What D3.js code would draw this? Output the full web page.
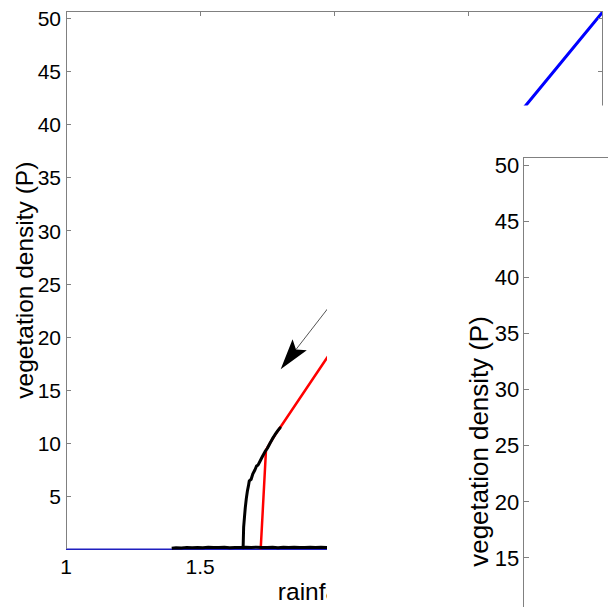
<!DOCTYPE html>
<html>
<head>
<meta charset="utf-8">
<script src="https://cdn.jsdelivr.net/npm/d3@7"></script>
<style>
  html, body { margin: 0; padding: 0; background: #fff; }
  svg { display: block; }
  text { font-family: Arial, "Liberation Sans", Helvetica, sans-serif; fill: #000; }
</style>
</head>
<body>
<svg id="chart" width="608" height="607"></svg>
<script>
// ---- data: rainfall R vs vegetation density P ----
const yTicks = [5, 10, 15, 20, 25, 30, 35, 40, 45, 50];
const xTicks = [1, 1.5, 2, 2.5, 3];
const insetTicks = [10, 15, 20, 25, 30, 35, 40, 45, 50];

// bare-soil state, P = 0 everywhere
const bareSoil = [[1, 0], [3, 0]];
// upper vegetated branch (blue)
const vegetatedUpper = [[2.6, 38.35], [2.714, 41.85], [3.0, 50.64]];
// homogeneous vegetated branch (red)
const uniformBranch = [
  [1.7255, 0], [1.7453, 9.36], [1.7602, 10.0], [1.7788, 10.77],
  [1.7975, 11.45], [1.9715, 18.0], [2.05, 20.8]
];
// simulation, vegetated part (black)
const simRise = [
  [1.6600, 0.15], [1.6607, 0.8], [1.6620, 2.1], [1.6650, 3.0], [1.6680, 3.9],
  [1.6720, 4.8], [1.6760, 5.5], [1.6800, 6.0], [1.6830, 6.45], [1.6900, 6.6],
  [1.6960, 7.1], [1.7043, 7.5], [1.7100, 7.85], [1.7160, 7.95], [1.7230, 8.3],
  [1.7300, 8.65], [1.7416, 9.2], [1.7500, 9.5], [1.7602, 10.0], [1.7700, 10.45],
  [1.7788, 10.8], [1.7900, 11.2], [1.7975, 11.45]
];
// simulation, near-bare part (black)
const simFloorR = [1.394, 1.41, 1.43, 1.45, 1.47, 1.49, 1.51, 1.53, 1.55, 1.57, 1.59,
  1.61, 1.63, 1.65, 1.67, 1.69, 1.71, 1.73, 1.75, 1.77, 1.79, 1.81, 1.83, 1.85,
  1.87, 1.89, 1.91, 1.93, 1.95, 1.97, 1.99, 2.01];
const simFloorP = [0.1, 0.15, 0.13, 0.17, 0.14, 0.18, 0.15, 0.19, 0.16, 0.17, 0.2,
  0.15, 0.18, 0.16, 0.19, 0.17, 0.2, 0.16, 0.18, 0.19, 0.15, 0.19, 0.17, 0.2,
  0.16, 0.18, 0.19, 0.16, 0.2, 0.17, 0.19, 0.17];
// direction of decreasing rainfall
const arrowPath = [[2.1, 26.75], [1.8, 16.97]];

const yLabel = "vegetation density (P)";
const xLabel = "rainfall (R)";

// ---- layout ----
const svg = d3.select("#chart");
const main = { left: 66, right: 602.7, top: 11, bottom: 549.3 };
const inset = { left: 523.7, top: 157.0, bottom: 725.9 };
const yMax = 50.73;
const axisColor = "#808080";

const x = d3.scaleLinear().domain([1, 3]).range([main.left, main.right]);
const y = d3.scaleLinear().domain([0, yMax]).range([main.bottom, main.top]);

const line = d3.line().x(d => x(d[0])).y(d => y(d[1]));

svg.append("defs").append("clipPath").attr("id", "plotClip")
  .append("rect")
  .attr("x", main.left).attr("y", main.top)
  .attr("width", main.right - main.left)
  .attr("height", main.bottom - main.top + 2);

const plot = svg.append("g").attr("clip-path", "url(#plotClip)");

plot.append("path").datum(bareSoil).attr("d", line)
  .attr("fill", "none").attr("stroke", "#1f1fbf").attr("stroke-width", 1.6);

plot.append("path").datum(vegetatedUpper).attr("d", line)
  .attr("fill", "none").attr("stroke", "#0000ff").attr("stroke-width", 3);

plot.append("path").datum(uniformBranch).attr("d", line)
  .attr("fill", "none").attr("stroke", "#ff0000").attr("stroke-width", 2.5);

const simFloor = simFloorR.map((r, i) => [r, simFloorP[i]]);
plot.append("path").datum(simFloor).attr("d", line)
  .attr("fill", "none").attr("stroke", "#000").attr("stroke-width", 3)
  .attr("stroke-linejoin", "miter");

plot.append("path").datum(simRise).attr("d", line)
  .attr("fill", "none").attr("stroke", "#000").attr("stroke-width", 3)
  .attr("stroke-linejoin", "round").attr("stroke-linecap", "round");

// arrow: shaft plus filled head at the tip
const [tail, tip] = arrowPath.map(d => [x(d[0]), y(d[1])]);
const dx = tip[0] - tail[0], dy = tip[1] - tail[1];
const len = Math.hypot(dx, dy);
const ux = dx / len, uy = dy / len;
const headLen = 31, headHalf = 9, notch = 25;
const back = [tip[0] - ux * headLen, tip[1] - uy * headLen];
const head = [
  tip,
  [back[0] - uy * headHalf, back[1] + ux * headHalf],
  [tip[0] - ux * notch, tip[1] - uy * notch],
  [back[0] + uy * headHalf, back[1] - ux * headHalf]
];
plot.append("line")
  .attr("x1", tail[0]).attr("y1", tail[1])
  .attr("x2", tip[0] - ux * notch).attr("y2", tip[1] - uy * notch)
  .attr("stroke", "#555").attr("stroke-width", 1);
plot.append("polygon").attr("points", head.map(p => p.join(",")).join(" "))
  .attr("fill", "#000");

// main axes box with inward ticks
const frame = svg.append("g").attr("stroke", axisColor).attr("stroke-width", 1)
  .attr("shape-rendering", "crispEdges");
frame.append("line").attr("x1", main.left).attr("x2", main.left)
  .attr("y1", main.top).attr("y2", main.bottom);
frame.append("line").attr("x1", main.left).attr("x2", main.right)
  .attr("y1", main.top).attr("y2", main.top);
frame.append("line").attr("x1", main.right).attr("x2", main.right)
  .attr("y1", main.top).attr("y2", main.bottom);
yTicks.forEach(t => {
  frame.append("line").attr("x1", main.left).attr("x2", main.left + 5)
    .attr("y1", y(t)).attr("y2", y(t));
  frame.append("line").attr("x1", main.right - 5).attr("x2", main.right)
    .attr("y1", y(t)).attr("y2", y(t));
});
xTicks.forEach(t => {
  frame.append("line").attr("x1", x(t)).attr("x2", x(t))
    .attr("y1", main.top).attr("y2", main.top + 5);
});

svg.append("g").selectAll("text").data(yTicks).join("text")
  .attr("x", main.left - 5).attr("y", d => y(d)).attr("dy", "0.36em")
  .attr("text-anchor", "end").attr("font-size", 21).text(d => d);

svg.append("g").selectAll("text").data(xTicks).join("text")
  .attr("x", d => x(d)).attr("y", 573.5)
  .attr("text-anchor", "middle").attr("font-size", 21).text(d => d);

svg.append("text")
  .attr("transform", `translate(33.3,${(main.top + main.bottom) / 2}) rotate(-90)`)
  .attr("text-anchor", "middle").attr("font-size", 24.5).text(yLabel);

svg.append("text")
  .attr("x", (main.left + main.right) / 2).attr("y", 600)
  .attr("text-anchor", "middle").attr("font-size", 24.5).text(xLabel);

// second panel sits over the lower right of the first
svg.append("rect").attr("x", 327).attr("y", 105.5)
  .attr("width", 608 - 327).attr("height", 607 - 105.5).attr("fill", "#fff");

const y2 = d3.scaleLinear().domain([0, yMax]).range([inset.bottom, inset.top]);
const frame2 = svg.append("g").attr("stroke", axisColor).attr("stroke-width", 1)
  .attr("shape-rendering", "crispEdges");
frame2.append("line").attr("x1", inset.left).attr("x2", inset.left)
  .attr("y1", inset.top).attr("y2", 607);
frame2.append("line").attr("x1", inset.left).attr("x2", 608)
  .attr("y1", inset.top).attr("y2", inset.top);
insetTicks.forEach(t => {
  frame2.append("line").attr("x1", inset.left).attr("x2", inset.left + 5)
    .attr("y1", y2(t)).attr("y2", y2(t));
});

svg.append("g").selectAll("text").data(insetTicks).join("text")
  .attr("x", inset.left - 4.5).attr("y", d => y2(d)).attr("dy", "0.36em")
  .attr("text-anchor", "end").attr("font-size", 22).text(d => d);

svg.append("text")
  .attr("transform", `translate(488.3,${(inset.top + inset.bottom) / 2}) rotate(-90)`)
  .attr("text-anchor", "middle").attr("font-size", 25.9).text(yLabel);
</script>
</body>
</html>
